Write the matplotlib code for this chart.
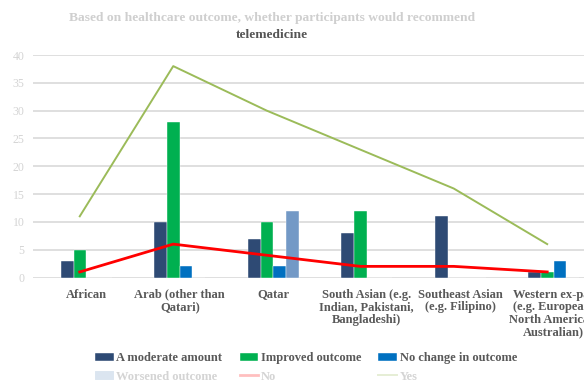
import numpy as np
import matplotlib.pyplot as plt

# DATA ############################################################

groups = [
    "African",
    "Arab (other than\nQatari)",
    "Qatar",
    "South Asian (e.g.\nIndian, Pakistani,\nBangladeshi)",
    "Southeast Asian\n(e.g. Filipino)",
    "Western ex-pat\n(e.g. European,\nNorth American,\nAustralian)",
]

moderate = [3, 10, 7, 8, 11, 1]
improved = [5, 28, 10, 12, 0, 1]
no_change = [0, 2, 2, 0, 0, 3]
worsened = [0, 0, 12, 0, 0, 0]

recommend_no = [1, 6, 4, 2, 2, 1]
recommend_yes = [11, 38, 30, 23, 16, 6]

# STYLE ###########################################################

SERIF = ["Liberation Serif", "DejaVu Serif"]
TEXT_DARK = "#595959"
TEXT_FADED = "#d4d4d4"
GRID = "#d9d9d9"

fig = plt.figure(figsize=(5.84, 3.81), dpi=100)
ax = fig.add_axes([33 / 584, 103.5 / 381, 567.5 / 584, 222.5 / 381])

x = np.arange(len(groups))
w = 0.136

bars = [
    (moderate, "#2e4a74", "A moderate amount"),
    (improved, "#00b050", "Improved outcome"),
    (no_change, "#0070c0", "No change in outcome"),
    (worsened, "#7399c6", "Worsened outcome"),
]

handles = {}
for i, (vals, col, lab) in enumerate(bars):
    h = ax.bar(x + (i - 1.5) * w, vals, width=w, color=col,
               edgecolor="white", linewidth=0.3, label=lab, zorder=2)
    handles[lab] = h

# line series sit slightly left of the group centre
line_x = x - 0.07
h_no, = ax.plot(line_x, recommend_no, color="#ff0000", linewidth=2.0,
                label="No", zorder=3)
h_yes, = ax.plot(line_x, recommend_yes, color="#9bbb59", linewidth=1.4,
                 label="Yes", zorder=3)

ax.set_xlim(-0.57, 5.5)
ax.set_ylim(0, 40)
ax.set_yticks(np.arange(0, 41, 5))
ax.yaxis.grid(True, color=GRID, linewidth=1.2, zorder=0)
ax.set_axisbelow(True)
for s in ax.spines.values():
    s.set_visible(False)
ax.tick_params(axis="y", length=0, pad=6, labelsize=8.5, labelcolor=TEXT_FADED)
ax.tick_params(axis="x", length=0, pad=8)
for lab in ax.get_yticklabels():
    lab.set_fontfamily(SERIF)

ax.set_xticks(x)
ax.set_xticklabels(groups, fontfamily=SERIF, fontweight="bold",
                   fontsize=9, color=TEXT_DARK, linespacing=1.05)

# TITLE ###########################################################

fig.text(272 / 584, 1 - 18 / 381,
         "Based on healthcare outcome, whether participants would recommend",
         ha="center", va="center", fontfamily=SERIF, fontweight="bold",
         fontsize=9.7, color="#cfcfcf")
fig.text(272 / 584, 1 - 35 / 381, "telemedicine",
         ha="center", va="center", fontfamily=SERIF, fontweight="bold",
         fontsize=9.7, color="#555555")

# LEGEND ##########################################################

# ncol fills column-wise, so interleave the two rows
order = [handles["A moderate amount"], handles["Worsened outcome"],
         handles["Improved outcome"], h_no,
         handles["No change in outcome"], h_yes]
labels = [h.get_label() for h in order]
leg = fig.legend(order, labels, ncol=3, loc="upper left",
                 bbox_to_anchor=(84 / 584, 1 - 341 / 381), frameon=False,
                 prop={"family": SERIF, "weight": "bold", "size": 9},
                 handlelength=1.5, handletextpad=0.2, columnspacing=1.36,
                 labelspacing=0.5)
faded = {"Worsened outcome", "No", "Yes"}
for txt, h in zip(leg.get_texts(), leg.legend_handles):
    if txt.get_text() in faded:
        txt.set_color(TEXT_FADED)
        h.set_alpha(0.25)
    else:
        txt.set_color(TEXT_DARK)

fig.savefig("out.png", dpi=100)
